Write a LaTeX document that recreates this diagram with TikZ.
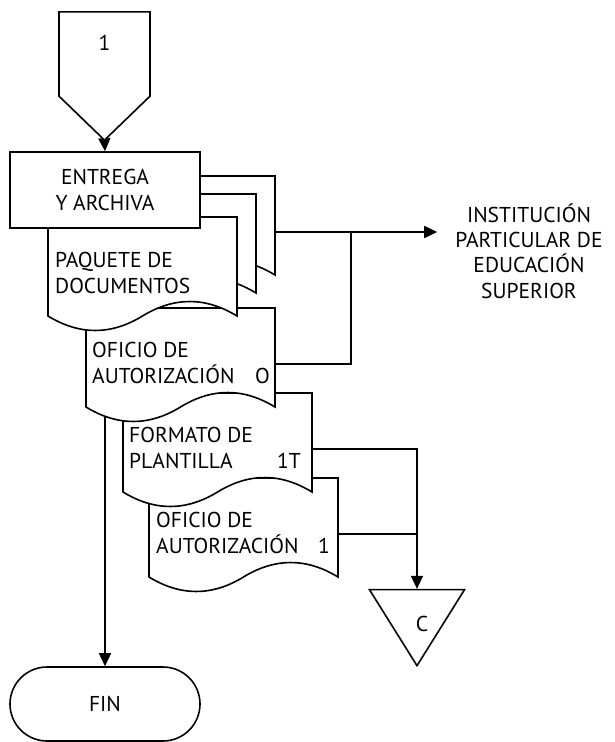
\documentclass[tikz,border=0pt]{standalone}
\usepackage{fontspec}
\setmainfont{PT Sans}
\usetikzlibrary{arrows.meta,shapes.symbols,shapes.geometric,shapes.misc}
\pgfdeclarelayer{wires}
\pgfsetlayers{wires,main}
\begin{document}
\begin{tikzpicture}[x=1pt,y=-1pt,
  font=\fontsize{21.5}{26}\selectfont,
  every node/.style={inner sep=0pt},
  shapeline/.style={draw,fill=white,line width=1.6pt},
  plainline/.style={line width=1.6pt},
  arrowline/.style={line width=1.6pt,-{Triangle[length=13pt,width=12pt]}},
  doctext/.style={anchor=base west,align=left},
  % paper document with a wavy lower edge; origin at its top-left corner
  pics/document/.style={code={
    \path[shapeline]
      (0,0) -- (189,0) -- (189,99)
      .. controls (157.5,79.7) and (126,79.7) .. (94.5,99)
      .. controls (63,118.3) and (31.5,118.3) .. (0,99) -- cycle;
    \coordinate (-e) at (189,56);
    \coordinate (-b) at (19,80);
  }},
]
\useasboundingbox (0,0) rectangle (615,742);

% off-page connector at the top
\node[shapeline, signal, signal to=south, signal from=nowhere,
      signal pointer angle=92, minimum width=91pt, minimum height=90pt,
      text depth=22pt]
      (start) at (104.5,54) {1};

% documents, drawn from the back to the front
\pic (ofi1) at (149,478) {document};
\pic (fmt)  at (123,393) {document};
\pic (ofi0) at (86,308)  {document};
\pic (paqc) at (86,176)  {document};
\pic (paqb) at (67,194)  {document};
\pic (paqa) at (48,217)  {document};

% activity box
\node[shapeline, minimum width=190pt, minimum height=76pt, align=center]
      (task) at (105,190) {ENTREGA\\Y ARCHIVA};

% terminator
\node[shapeline, rounded rectangle, minimum width=190pt, minimum height=74pt]
      (fin) at (105,704) {FIN};

% off-page connector C
\node[shapeline, isosceles triangle, isosceles triangle stretches,
      shape border rotate=270, minimum width=95pt, minimum height=76pt,
      label={[xshift=5pt,yshift=-8pt]center:C}]
      (conn) at (417,616) {};

% receiver
\node[align=center, inner xsep=18pt, font=\fontsize{21.5}{25.3}\selectfont]
      (inst) at (529,251) {INSTITUCIÓN\\PARTICULAR DE\\EDUCACIÓN\\SUPERIOR};

% document labels (anchored at the baseline of the second line)
\node[doctext] (paqt)  at (55,293)  {PAQUETE DE\\DOCUMENTOS};
\node[doctext] (ofi0t) at (92,383)  {OFICIO DE\\AUTORIZACIÓN};
\node[anchor=base west] (ofi0n) at (255,383) {O};
\node[doctext] (fmtt)  at (129,468) {FORMATO DE\\PLANTILLA};
\node[anchor=base west] (fmtn)  at (277,468) {1T};
\node[doctext] (ofi1t) at (156,553) {OFICIO DE\\AUTORIZACIÓN};
\node[anchor=base west] (ofi1n) at (318,553) {1};

\coordinate (join) at (351,232);

\begin{pgfonlayer}{wires}
  \draw[arrowline] (start.south) -- (task.north);
  \draw[arrowline] (paqc-e) -- (paqc-e -| inst.west);
  \draw[plainline] (ofi0-e) -| (join);
  \draw[arrowline] (fmt-e) -| (conn.north);
  \draw[plainline] (ofi1-e) -- (ofi1-e -| conn.north);
  \draw[arrowline] (ofi0-b) -- (fin.north);
\end{pgfonlayer}
\end{tikzpicture}
\end{document}
